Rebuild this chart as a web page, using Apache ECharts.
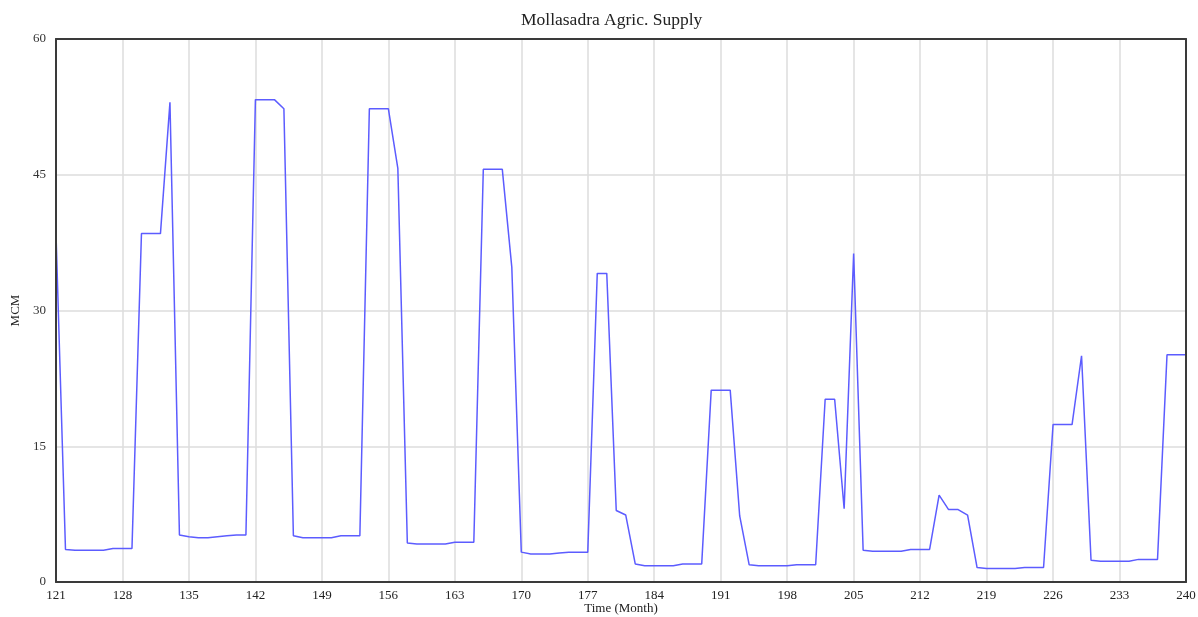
<!DOCTYPE html>
<html>
<head>
<meta charset="utf-8">
<script src="https://cdn.jsdelivr.net/npm/echarts@6/dist/echarts.min.js"></script>
<style>
  html, body { margin: 0; padding: 0; background: #fff; }
  #chart { width: 1198px; height: 617px; }
</style>
</head>
<body>
<div id="chart"></div>
<script>
// Time axis categories (months)
const months = [
  121,122,123,124,125,126,127,128,129,130,131,132,
  133,134,135,136,137,138,139,140,141,142,143,144,
  145,146,147,148,149,150,151,152,153,154,155,156,
  157,158,159,160,161,162,163,164,165,166,167,168,
  169,170,171,172,173,174,175,176,177,178,179,180,
  181,182,183,184,185,186,187,188,189,190,191,192,
  193,194,195,196,197,198,199,200,201,202,203,204,
  205,206,207,208,209,210,211,212,213,214,215,216,
  217,218,219,220,221,222,223,224,225,226,227,228,
  229,230,231,232,233,234,235,236,237,238,239,240
];

// Mollasadra Agric. Supply (MCM)
const supply = [
  38.5, 3.6, 3.5, 3.5, 3.5, 3.5, 3.7, 3.7, 3.7, 38.5, 38.5, 38.5,
  53.0, 5.2, 5.0, 4.9, 4.9, 5.0, 5.1, 5.2, 5.2, 53.3, 53.3, 53.3,
  52.3, 5.1, 4.9, 4.9, 4.9, 4.9, 5.1, 5.1, 5.1, 52.3, 52.3, 52.3,
  45.7, 4.3, 4.2, 4.2, 4.2, 4.2, 4.4, 4.4, 4.4, 45.6, 45.6, 45.6,
  34.8, 3.3, 3.1, 3.1, 3.1, 3.2, 3.3, 3.3, 3.3, 34.1, 34.1, 7.9,
  7.4, 2.0, 1.8, 1.8, 1.8, 1.8, 2.0, 2.0, 2.0, 21.2, 21.2, 21.2,
  7.3, 1.9, 1.8, 1.8, 1.8, 1.8, 1.9, 1.9, 1.9, 20.2, 20.2, 8.1,
  36.3, 3.5, 3.4, 3.4, 3.4, 3.4, 3.6, 3.6, 3.6, 9.6, 8.0, 8.0,
  7.4, 1.6, 1.5, 1.5, 1.5, 1.5, 1.6, 1.6, 1.6, 17.4, 17.4, 17.4,
  25.0, 2.4, 2.3, 2.3, 2.3, 2.3, 2.5, 2.5, 2.5, 25.1, 25.1, 25.1
];

const titleText = 'Mollasadra Agric. Supply';
const xName = 'Time (Month)';
const yName = 'MCM';
const yTicks = { min: 0, max: 60, interval: 15 };

const font = '"Liberation Serif", "DejaVu Serif", serif';
const chart = echarts.init(document.getElementById('chart'), null, { renderer: 'canvas' });

const frameLine = { show: true, onZero: false, lineStyle: { color: '#3a3a3a', width: 2 } };

function frameX(pos) {
  return {
    type: 'category', data: months, boundaryGap: false, position: pos,
    axisLine: frameLine, axisTick: { show: false }, axisLabel: { show: false },
    splitLine: { show: false }, z: 5
  };
}
function frameY(pos) {
  return {
    type: 'value', min: yTicks.min, max: yTicks.max, interval: yTicks.interval, position: pos,
    axisLine: frameLine, axisTick: { show: false }, axisLabel: { show: false },
    splitLine: { show: false }, z: 5
  };
}

chart.setOption({
  animation: false,
  backgroundColor: '#ffffff',
  title: {
    text: titleText,
    left: 516,
    top: 6,
    textStyle: { fontFamily: font, fontSize: 17.5, fontWeight: 'normal', color: '#222' }
  },
  grid: {
    left: 56, right: 12, top: 39, bottom: 35,
    containLabel: false,
    outerBoundsMode: 'none',
    show: false
  },
  xAxis: [{
    type: 'category',
    data: months,
    boundaryGap: false,
    position: 'bottom',
    name: xName,
    nameLocation: 'middle',
    nameGap: 20,
    nameMoveOverlap: false,
    nameTextStyle: { fontFamily: font, fontSize: 13, color: '#222' },
    axisLine: { show: false, onZero: false },
    axisTick: { show: false },
    axisLabel: { interval: 6, margin: 7, fontFamily: font, fontSize: 13, color: '#222' },
    splitLine: { show: true, interval: 6, lineStyle: { color: '#dddddd', width: 1.5 } },
    z: 0
  }, frameX('bottom'), frameX('top')],
  yAxis: [{
    type: 'value',
    min: yTicks.min,
    max: yTicks.max,
    interval: yTicks.interval,
    position: 'left',
    name: yName,
    nameLocation: 'middle',
    nameGap: 34,
    nameMoveOverlap: false,
    nameRotate: 90,
    nameTextStyle: { fontFamily: font, fontSize: 13, color: '#222' },
    axisLine: { show: false },
    axisTick: { show: false },
    axisLabel: { margin: 10, fontFamily: font, fontSize: 13, color: '#333' },
    splitLine: { show: true, lineStyle: { color: '#dddddd', width: 1.5 } },
    z: 0
  }, frameY('left'), frameY('right')],
  series: [{
    type: 'line',
    data: supply,
    xAxisIndex: 0,
    yAxisIndex: 0,
    showSymbol: false,
    symbol: 'none',
    lineStyle: { color: '#5c5cff', width: 1.5 },
    z: 3
  }]
});
</script>
</body>
</html>
